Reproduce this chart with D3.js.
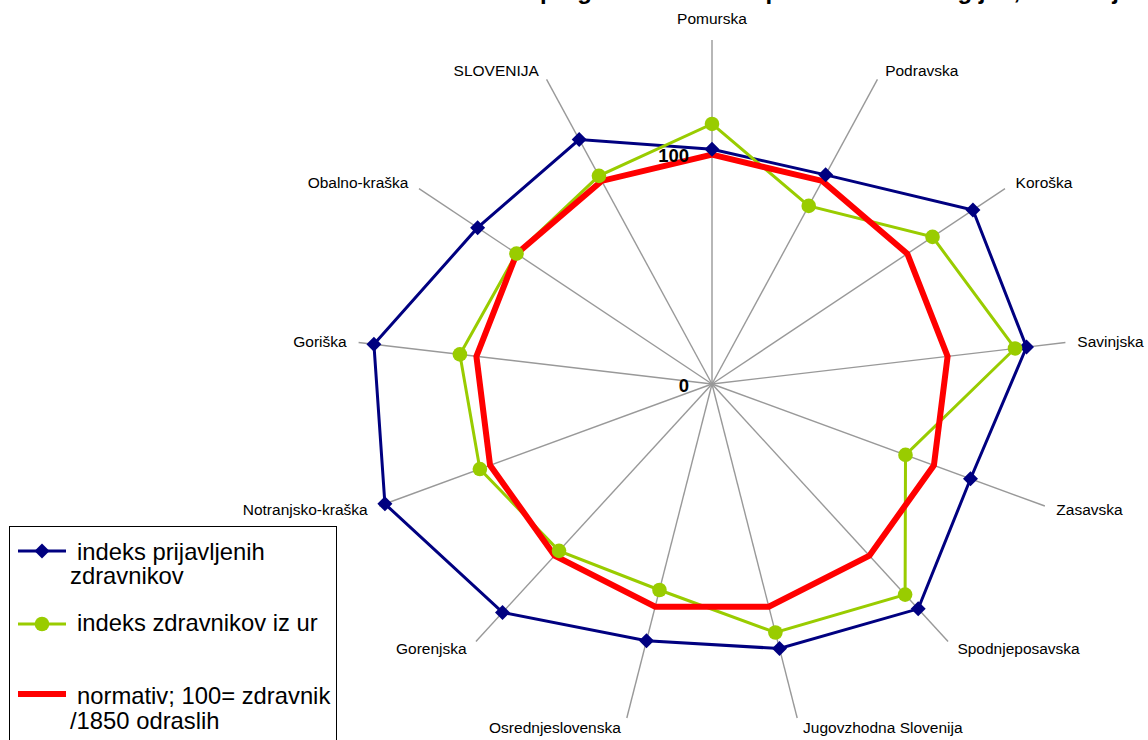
<!DOCTYPE html>
<html>
<head>
<meta charset="utf-8">
<script src="https://cdn.jsdelivr.net/npm/d3@7"></script>
<style>
  html, body { margin: 0; padding: 0; background: #ffffff; overflow: hidden; }
  svg { display: block; font-family: "Liberation Sans", Arial, sans-serif; }
</style>
</head>
<body>
<svg id="chart" width="1148" height="740"></svg>
<script>
// ---- data ----
const categories = ["Pomurska", "Podravska", "Koroška", "Savinjska", "Zasavska", "Spodnjeposavska",
  "Jugovzhodna Slovenija", "Osrednjeslovenska", "Gorenjska", "Notranjsko-kraška", "Goriška",
  "Obalno-kraška", "SLOVENIJA"];
const prijavljeni = [102.4, 103.0, 133.6, 133.5, 116.5, 131.0, 118.8, 115.3, 133.1, 147.4, 143.5, 120.0, 120.4];
const izUr = [113.4, 87.7, 112.9, 128.6, 87.2, 122.7, 111.6, 92.5, 97.2, 104.6, 107.0, 100.1, 102.5];
const normativ = [100, 100, 100, 100, 100, 100, 100, 100, 100, 100, 100, 100, 100];
const tickValues = [0, 100];
const tickLabels = ["0", "100"];
const seriesNames = ["indeks prijavljenih|zdravnikov", "indeks zdravnikov iz ur", "normativ; 100= zdravnik|/1850 odraslih"];
const titleText = "Letni pregled zdravnikov po statističnih regijah, Slovenija";

// ---- layout ----
const svg = d3.select("#chart");
const cx = 712, cy = 384;
const maxV = 150;
const rX = d3.scaleLinear().domain([0, maxV]).range([0, 356]);
const rY = d3.scaleLinear().domain([0, maxV]).range([0, 344]);
const ang = d3.scaleBand().domain(categories).range([0, 2 * Math.PI]).padding(0);
function pt(c, v) {
  const a = ang(c);
  return [cx + rX(v) * Math.sin(a), cy - rY(v) * Math.cos(a)];
}

svg.append("rect").attr("width", 1148).attr("height", 740).attr("fill", "#fff");

// title (cut off at the top in the source: only descenders remain visible)
svg.append("text")
  .attr("x", 476).attr("y", -1)
  .attr("font-size", 24).attr("font-weight", "bold").attr("fill", "#000")
  .text(titleText);

// spokes
const gSpokes = svg.append("g");
categories.forEach(c => {
  const [x, y] = pt(c, maxV);
  gSpokes.append("line")
    .attr("x1", cx).attr("y1", cy).attr("x2", x).attr("y2", y)
    .attr("stroke", "#999999").attr("stroke-width", 1.4);
});

// category labels
categories.forEach(c => {
  const a = ang(c);
  const s = Math.sin(a), co = Math.cos(a);
  const [ex, ey] = pt(c, maxV);
  const t = svg.append("text").attr("font-size", 15.5).attr("fill", "#000").text(c);
  if (Math.abs(s) < 0.05) {
    t.attr("x", ex).attr("y", ey - 16).attr("text-anchor", "middle");
  } else {
    const gap = 4 + 8 * Math.abs(s);
    t.attr("x", s > 0 ? ex + gap : ex - gap)
     .attr("y", ey - 10 * co + 5.5)
     .attr("text-anchor", s > 0 ? "start" : "end");
  }
});

// series
const series = [
  { values: prijavljeni, color: "#000080", width: 3, marker: "diamond" },
  { values: izUr, color: "#99CC00", width: 3, marker: "circle" },
  { values: normativ, color: "#FF0000", width: 6, marker: null }
];
const line = d3.line().curve(d3.curveLinearClosed);
series.forEach(s => {
  const pts = categories.map((c, i) => pt(c, s.values[i]));
  svg.append("path").attr("d", line(pts))
    .attr("fill", "none").attr("stroke", s.color).attr("stroke-width", s.width)
    .attr("stroke-linejoin", "miter");
});
const diamond = "M0,-7.5L7.5,0L0,7.5L-7.5,0Z";
series.forEach(s => {
  if (!s.marker) return;
  categories.forEach((c, i) => {
    const [x, y] = pt(c, s.values[i]);
    if (s.marker === "diamond") {
      svg.append("path").attr("d", diamond).attr("transform", `translate(${x},${y})`).attr("fill", s.color);
    } else {
      svg.append("circle").attr("cx", x).attr("cy", y).attr("r", 7.3).attr("fill", s.color);
    }
  });
});

// radial tick labels on first axis
tickValues.forEach((v, i) => {
  const [x, y] = pt(categories[0], v);
  svg.append("text")
    .attr("x", x - 23).attr("y", y + 7.6)
    .attr("text-anchor", "end")
    .attr("font-size", 18.5).attr("font-weight", "bold").attr("fill", "#000")
    .text(tickLabels[i]);
});

// legend
const lg = svg.append("g");
lg.append("rect").attr("x", 9.5).attr("y", 526.5).attr("width", 327).attr("height", 240)
  .attr("fill", "#fff").attr("stroke", "#000").attr("stroke-width", 1);
const legendRows = [
  { y: 551, lines: [559.5, 584] },
  { y: 624, lines: [631] },
  { y: 694, lines: [704, 728.5] }
];
series.forEach((s, i) => {
  const r = legendRows[i];
  lg.append("line").attr("x1", 18).attr("x2", 66).attr("y1", r.y).attr("y2", r.y)
    .attr("stroke", s.color).attr("stroke-width", s.width);
  if (s.marker === "diamond") {
    lg.append("path").attr("d", diamond).attr("transform", `translate(42,${r.y})`).attr("fill", s.color);
  } else if (s.marker === "circle") {
    lg.append("circle").attr("cx", 42).attr("cy", r.y).attr("r", 7.3).attr("fill", s.color);
  }
  const parts = seriesNames[i].split("|");
  parts.forEach((p, j) => {
    lg.append("text").attr("x", j === 0 ? 77 : 70).attr("y", r.lines[j])
      .attr("font-size", 23.8).attr("fill", "#000").text(p);
  });
});
</script>
</body>
</html>
